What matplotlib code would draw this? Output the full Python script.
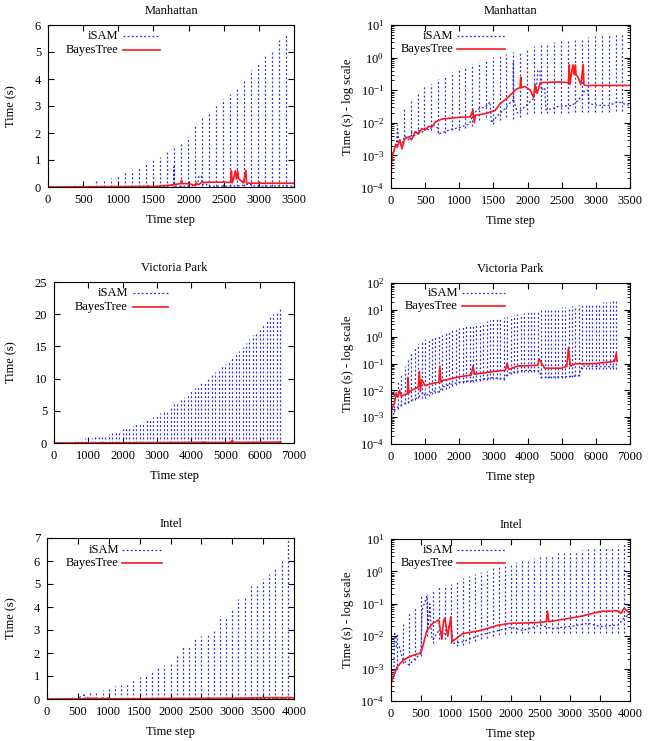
import numpy as np
import matplotlib
matplotlib.use("Agg")
import matplotlib.pyplot as plt
from matplotlib.ticker import LogLocator, NullFormatter, MultipleLocator

plt.rcParams['font.family'] = ['Liberation Serif', 'DejaVu Serif']
plt.rcParams['mathtext.fontset'] = 'stix'
plt.rcParams['font.size'] = 9

# ---------------- Manhattan ----------------
man_spike_steps = [90, 190, 290, 390, 490, 590, 690, 790, 890, 990, 1090, 1190,
                   1290, 1390, 1490, 1590, 1690, 1790, 1890, 1990, 2090, 2190,
                   2290, 2390, 2490, 2590, 2690, 2790, 2890, 2990, 3090, 3190,
                   3290, 3390]
man_spike_top = [0.0095, 0.029, 0.053, 0.08, 0.13, 0.16, 0.22, 0.29, 0.35, 0.46,
                 0.53, 0.63, 0.75, 0.93, 1.03, 1.10, 1.28, 1.48, 1.65, 1.85,
                 2.28, 2.56, 2.76, 3.01, 3.26, 3.45, 3.66, 3.95, 4.32, 4.60,
                 4.85, 5.05, 5.45, 5.66]
man_spike_low = [0.002, 0.003, 0.004, 0.005, 0.006, 0.006, 0.005, 0.005, 0.006,
                 0.006, 0.007, 0.008, 0.012, 0.015, 0.009, 0.012, 0.015, 0.013,
                 0.015, 0.018, 0.02, 0.02, 0.02, 0.02, 0.02, 0.02, 0.021, 0.021,
                 0.022, 0.022, 0.022, 0.022, 0.023, 0.023]
man_isam_steps = [0, 10, 40, 80, 95, 110, 150, 200, 260, 300, 350, 400, 450, 500,
                  560, 620, 680, 700, 800, 900, 1000, 1100, 1150, 1200, 1260, 1300,
                  1380, 1450, 1470, 1550, 1670, 1760, 1790, 1792, 1796, 1850, 1900,
                  2010, 2090, 2130, 2150, 2180, 2200, 2250, 2270, 2360, 2450, 2650,
                  2740, 2800, 2820, 2880, 2900, 3000, 3180, 3330, 3430, 3500]
man_isam_vals = [2e-4, 8e-4, 1.5e-3, 2e-3, 6.5e-3, 3e-3, 2e-3, 4e-3, 3e-3, 5e-3,
                 4e-3, 6e-3, 5e-3, 7e-3, 6e-3, 8.5e-3, 7e-3, 4.5e-3, 5.5e-3, 6.5e-3,
                 7e-3, 8.5e-3, 9e-3, 1.8e-2, 2.4e-2, 2.8e-2, 3e-2, 4.4e-2, 1e-2,
                 1.6e-2, 2.7e-2, 4.5e-2, 5e-2, 0.75, 5e-2, 2e-2, 2.4e-2, 3.9e-2,
                 5.6e-2, 0.12, 0.4, 0.42, 0.1, 0.12, 2.5e-2, 2.7e-2, 3.2e-2, 3.4e-2,
                 4.9e-2, 7e-2, 9e-2, 0.1, 3.9e-2, 3.5e-2, 3.4e-2, 4.4e-2, 3.7e-2,
                 3.4e-2]
man_bt_steps = [0, 5, 20, 40, 70, 90, 130, 160, 200, 260, 300, 355, 400, 450, 500,
                550, 600, 650, 745, 890, 1040, 1160, 1200, 1220, 1235, 1380, 1525,
                1600, 1697, 1770, 1843, 1890, 1900, 1910, 1965, 2040, 2087, 2110,
                2140, 2185, 2452, 2600, 2610, 2620, 2640, 2665, 2680, 2700, 2710,
                2740, 2780, 2815, 2825, 2842, 3500]
man_bt_vals = [1e-4, 5e-4, 1e-3, 1.3e-3, 2.2e-3, 1.8e-3, 3e-3, 1.6e-3, 3.2e-3,
               3.7e-3, 3e-3, 5.3e-3, 4.5e-3, 6.6e-3, 6e-3, 7.8e-3, 7.5e-3, 1.07e-2,
               1.3e-2, 1.4e-2, 1.5e-2, 1.5e-2, 2.5e-2, 1e-2, 1.7e-2, 1.9e-2, 2.4e-2,
               3.9e-2, 5.6e-2, 7.9e-2, 0.11, 0.12, 0.25, 0.12, 0.13, 0.1, 0.06,
               0.15, 0.08, 0.17, 0.18, 0.17, 0.6, 0.15, 0.3, 0.6, 0.3, 0.6, 0.3,
               0.25, 0.15, 0.62, 0.15, 0.14, 0.14]

# ---------------- Victoria Park ----------------
vic_spike_steps = [100, 200, 300, 400, 500, 600, 700, 800, 900, 1000, 1100, 1200,
                   1300, 1400, 1500, 1600, 1700, 1800, 1900, 2000, 2100, 2200,
                   2300, 2400, 2500, 2600, 2700, 2800, 2900, 3000, 3100, 3200,
                   3300, 3400, 3500, 3600, 3700, 3800, 3900, 4000, 4100, 4200,
                   4300, 4400, 4500, 4600, 4700, 4800, 4900, 5000, 5100, 5200,
                   5300, 5400, 5500, 5600, 5700, 5800, 5900, 6000, 6100, 6200,
                   6300, 6400, 6500, 6600]
vic_spike_top = [0.01, 0.02, 0.045, 0.08, 0.13, 0.25, 0.4, 0.55, 0.7, 0.85, 0.75,
                 0.9, 1.0, 1.1, 1.2, 1.35, 1.5, 1.7, 1.9, 2.1, 2.3, 2.5, 2.7, 2.9,
                 3.1, 3.3, 3.5, 3.8, 4.1, 4.4, 4.6, 4.9, 5.2, 5.6, 6.0, 6.4, 6.8,
                 7.2, 7.6, 8.1, 8.5, 8.9, 9.3, 9.7, 10.1, 10.6, 11.0, 11.5, 11.9,
                 12.3, 12.8, 13.3, 13.8, 14.3, 14.9, 15.5, 16.1, 16.7, 17.3, 17.9,
                 18.4, 19.0, 19.6, 20.0, 20.5, 21.1]
vic_spike_low = [1.5e-3, 2e-3, 2.5e-3, 3e-3, 3.5e-3, 4e-3, 4.5e-3, 5e-3, 5e-3, 5e-3,
                 6e-3, 7e-3, 8e-3, 9e-3, 1e-2, 1.1e-2, 1.2e-2, 1.4e-2, 1.6e-2,
                 1.8e-2, 1.9e-2, 2e-2, 2e-2, 2.1e-2, 2.2e-2, 2.3e-2, 2.4e-2, 2.5e-2,
                 2.6e-2, 2.7e-2, 2.7e-2, 2.6e-2, 2.5e-2, 3.5e-2, 4e-2, 4.5e-2,
                 4.6e-2, 4.7e-2, 4.8e-2, 4.9e-2, 5e-2, 5e-2, 5e-2, 3e-2, 2.8e-2,
                 2.8e-2, 2.8e-2, 2.9e-2, 2.9e-2, 3e-2, 3e-2, 3.1e-2, 3.2e-2, 3.3e-2,
                 3.3e-2, 6e-2, 6e-2, 6e-2, 6e-2, 6e-2, 6e-2, 6e-2, 6e-2, 6e-2,
                 6e-2, 6e-2]
vic_isam_steps = [0, 20, 50, 120, 200, 350, 500, 650, 800, 950, 1000, 1150, 1300,
                  1400, 1500, 1700, 2000, 2250, 2500, 2750, 3000, 3300, 3350, 3500,
                  3800, 4000, 4350, 4400, 4700, 5000, 5250, 5500, 5600, 6000, 6300,
                  6600]
vic_isam_vals = [3e-4, 6e-4, 1e-3, 2e-3, 2.4e-3, 3e-3, 3.6e-3, 4.5e-3, 5.5e-3,
                 8.5e-3, 6e-3, 8e-3, 9.7e-3, 8.5e-3, 1.3e-2, 1.6e-2, 2e-2, 2.2e-2,
                 2.4e-2, 2.7e-2, 3e-2, 2.6e-2, 3.5e-2, 4.6e-2, 5.3e-2, 5.6e-2,
                 5.3e-2, 3e-2, 3.1e-2, 3.2e-2, 3.3e-2, 3.5e-2, 8e-2, 7.8e-2, 7.6e-2,
                 7.5e-2]
vic_bt_steps = [0, 20, 100, 150, 200, 250, 300, 400, 480, 500, 520, 600, 800, 830,
                860, 900, 1000, 1200, 1400, 1430, 1460, 1500, 1700, 2000, 2350,
                2400, 2450, 3000, 3350, 3400, 3450, 3700, 4300, 4330, 4500, 5000,
                5150, 5200, 5250, 5400, 6000, 6550, 6600, 6620]
vic_bt_vals = [3e-4, 2e-3, 3.2e-3, 8e-3, 5.5e-3, 1e-2, 6e-3, 7e-3, 7.3e-3, 3e-2,
               8e-3, 1e-2, 1.3e-2, 5e-2, 9e-3, 2.5e-2, 1.5e-2, 1.8e-2, 2e-2, 8e-2,
               2e-2, 2.3e-2, 2.6e-2, 3.2e-2, 3.7e-2, 8e-2, 4e-2, 5e-2, 5.6e-2, 0.1,
               6e-2, 8e-2, 8.6e-2, 0.15, 6.7e-2, 6.7e-2, 8e-2, 0.4, 8e-2, 9.7e-2,
               0.1, 0.12, 0.25, 0.12]

# ---------------- Intel ----------------
int_spike_steps = [100, 200, 300, 400, 500, 600, 700, 800, 900, 1000, 1100, 1200,
                   1300, 1400, 1500, 1600, 1700, 1800, 1900, 2000, 2100, 2200,
                   2300, 2400, 2500, 2600, 2700, 2800, 2900, 3000, 3100, 3200,
                   3300, 3400, 3500, 3600, 3700, 3800, 3900]
int_spike_top = [0.012, 0.028, 0.057, 0.082, 0.17, 0.2, 0.27, 0.34, 0.37, 0.42,
                 0.55, 0.62, 0.7, 0.84, 0.96, 1.06, 1.23, 1.39, 1.49, 1.6, 1.93,
                 2.29, 2.27, 2.62, 2.75, 2.87, 3.06, 3.6, 3.57, 3.86, 4.35, 4.49,
                 4.97, 4.9, 5.22, 5.45, 5.7, 6.1, 6.93]
int_spike_low = [1e-3, 1.5e-3, 1.3e-3, 1.8e-3, 2.5e-3, 1e-2, 6e-3, 8e-3, 8e-3,
                 6e-3, 5e-3, 5.5e-3, 6e-3, 7e-3, 8e-3, 9e-3, 1e-2, 1.1e-2, 1.2e-2,
                 1.3e-2, 1.3e-2, 1.3e-2, 1.3e-2, 1.3e-2, 1.3e-2, 1.3e-2, 1.3e-2,
                 1.3e-2, 1.3e-2, 1.3e-2, 1.3e-2, 1.3e-2, 1.3e-2, 1.3e-2, 1.3e-2,
                 1.3e-2, 1.3e-2, 1.3e-2, 1.3e-2]
int_isam_steps = [0, 50, 60, 80, 90, 140, 200, 300, 400, 500, 520, 600, 620, 650,
                  680, 700, 800, 900, 1000, 1050, 1200, 1500, 1800, 2000, 2200,
                  2500, 2700, 3000, 3300, 3500, 3800, 3900, 4000]
int_isam_vals = [3.5e-4, 1.1e-3, 1.2e-2, 1e-2, 4.7e-3, 4.7e-3, 1.8e-3, 1.3e-3,
                 2e-3, 2.9e-3, 6.4e-2, 0.17, 1.5e-2, 0.1, 1e-2, 7.7e-3, 1.5e-2,
                 1.2e-2, 2.5e-2, 6e-3, 6.7e-3, 1.1e-2, 1.5e-2, 1.9e-2, 1.5e-2,
                 2.2e-2, 1.7e-2, 2e-2, 2.5e-2, 2e-2, 2.2e-2, 3.6e-2, 5e-2]
int_bt_steps = [0, 100, 200, 300, 500, 530, 600, 700, 800, 850, 880, 900, 950, 1000,
                1020, 1200, 1500, 1800, 2000, 2400, 2600, 2620, 2640, 3000, 3200,
                3500, 3800, 3850, 3900, 4000]
int_bt_vals = [3.5e-4, 1.1e-3, 1.8e-3, 2.3e-3, 3.1e-3, 4.7e-3, 1.5e-2, 2.5e-2,
               3.2e-2, 8e-3, 3e-2, 3.6e-2, 1e-2, 4e-2, 6.7e-3, 1.2e-2, 1.5e-2,
               2.2e-2, 2.5e-2, 2.6e-2, 2.8e-2, 6e-2, 2.8e-2, 3.6e-2, 4.2e-2,
               5.8e-2, 6.1e-2, 5e-2, 7.3e-2, 5e-2]

W, H = 649, 741
fig = plt.figure(figsize=(W / 100, H / 100), dpi=100)


def px_axes(x0, y0, x1, y1):
    return fig.add_axes([x0 / W, 1 - y1 / H, (x1 - x0) / W, (y1 - y0) / H])


isam_style = dict(color='#2a2ad8', linestyle=(0, (1.5, 1.8)), linewidth=0.9)
bt_style = dict(color='#ff1818', linestyle='-', linewidth=1.2)


def draw(ax, title, spikes, low, top, isam_x, isam_y, bt_x, bt_y,
         xmax, xstep, log, ylim, ystep, leg, ylab_x):
    ax.vlines(spikes, low, top, **isam_style)
    ax.plot(isam_x, isam_y, **isam_style)
    ax.plot(bt_x, bt_y, **bt_style)
    ax.set_xlim(0, xmax)
    ax.xaxis.set_major_locator(MultipleLocator(xstep))
    if log:
        ax.set_yscale('log')
        ax.yaxis.set_major_locator(LogLocator(base=10, numticks=20))
        ax.yaxis.set_minor_locator(LogLocator(base=10, subs=np.arange(2, 10), numticks=20))
        ax.yaxis.set_minor_formatter(NullFormatter())
        ax.set_ylabel('Time (s) - log scale')
    else:
        ax.yaxis.set_major_locator(MultipleLocator(ystep))
        ax.set_ylabel('Time (s)')
    ax.set_ylim(*ylim)
    ax.yaxis.set_label_coords(ylab_x, 0.5)
    ax.set_title(title, fontsize=9, pad=8)
    ax.set_xlabel('Time step', labelpad=6)
    ax.tick_params(which='both', direction='in', top=True, right=True,
                   labelsize=9, pad=5)
    ax.tick_params(which='major', length=4)
    ax.tick_params(which='minor', length=2)
    for s in ax.spines.values():
        s.set_linewidth(0.8)
    tx, lx0, lx1, y1, y2 = leg
    ax.text(tx, y1, 'iSAM', transform=ax.transAxes, ha='right', va='center', fontsize=9)
    ax.text(tx, y2, 'BayesTree', transform=ax.transAxes, ha='right', va='center', fontsize=9)
    ax.plot([lx0, lx1], [y1, y1], transform=ax.transAxes, **isam_style)
    ax.plot([lx0, lx1], [y2, y2], transform=ax.transAxes, **bt_style)


ax = px_axes(48, 25, 294, 187)
draw(ax, 'Manhattan', man_spike_steps, man_spike_low, man_spike_top,
     man_isam_steps, man_isam_vals, man_bt_steps, man_bt_vals,
     3500, 500, False, (0, 6), 1, (0.285, 0.305, 0.455, 0.932, 0.846), -0.126)

ax = px_axes(391, 25, 630, 188)
draw(ax, 'Manhattan', man_spike_steps, man_spike_low, man_spike_top,
     man_isam_steps, man_isam_vals, man_bt_steps, man_bt_vals,
     3500, 500, True, (1e-4, 10), None, (0.26, 0.276, 0.477, 0.93, 0.85), -0.155)

ax = px_axes(54, 282, 294, 443)
draw(ax, 'Victoria Park', vic_spike_steps, vic_spike_low, vic_spike_top,
     vic_isam_steps, vic_isam_vals, vic_bt_steps, vic_bt_vals,
     7000, 1000, False, (0, 25), 5, (0.308, 0.329, 0.475, 0.93, 0.845), -0.154)

ax = px_axes(391, 283, 630, 444)
draw(ax, 'Victoria Park', vic_spike_steps, vic_spike_low, vic_spike_top,
     vic_isam_steps, vic_isam_vals, vic_bt_steps, vic_bt_vals,
     7000, 1000, True, (1e-4, 100), None, (0.28, 0.297, 0.477, 0.937, 0.857), -0.155)

ax = px_axes(47, 538, 294, 699)
draw(ax, 'Intel', int_spike_steps, int_spike_low, int_spike_top,
     int_isam_steps, int_isam_vals, int_bt_steps, int_bt_vals,
     4000, 500, False, (0, 7), 1, (0.291, 0.304, 0.466, 0.925, 0.845), -0.121)

ax = px_axes(391, 539, 630, 701)
draw(ax, 'Intel', int_spike_steps, int_spike_low, int_spike_top,
     int_isam_steps, int_isam_vals, int_bt_steps, int_bt_vals,
     4000, 500, True, (1e-4, 10), None, (0.26, 0.276, 0.477, 0.932, 0.852), -0.155)

fig.savefig('out.png', dpi=100)
